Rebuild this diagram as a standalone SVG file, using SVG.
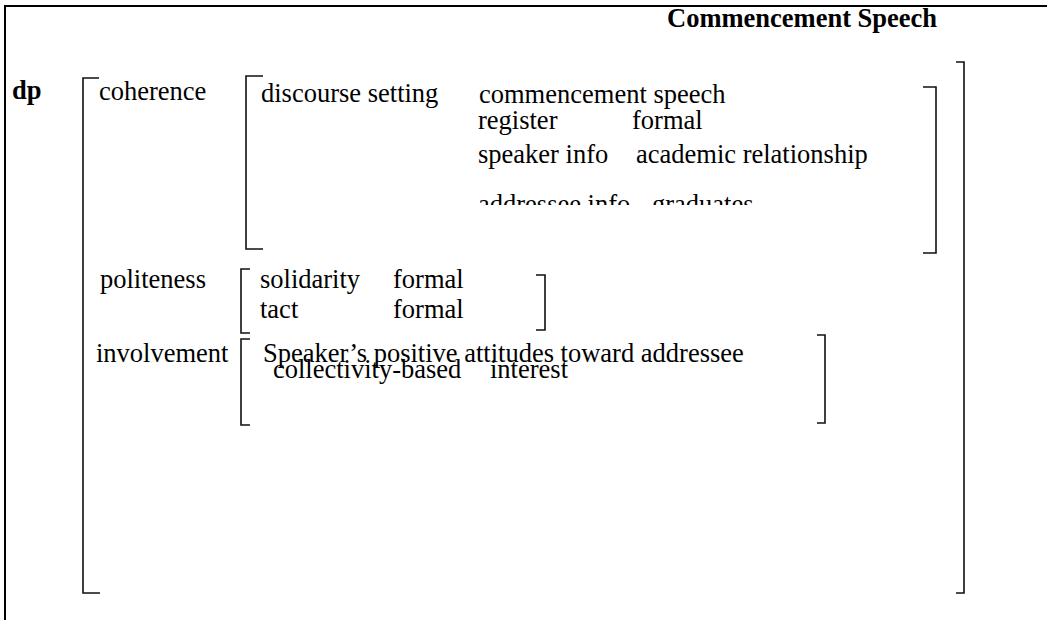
<svg xmlns="http://www.w3.org/2000/svg" width="1047" height="620" viewBox="0 0 1047 620">
  <style>
    text { font-family: "Liberation Serif", Tinos, "DejaVu Serif", "Times New Roman", serif; font-size: 26.5px; fill: #000; }
    .b { font-weight: bold; }
    .br { fill: none; stroke: #111; stroke-width: 1.6; }
    .frame { fill: none; stroke: #000; stroke-width: 2; }
  </style>
  <defs>
    <clipPath id="cut-row">
      <rect x="470" y="180" width="440" height="25"/>
    </clipPath>
  </defs>
  <rect width="1047" height="620" fill="#fff"/>

  <!-- page frame: top rule and left edge -->
  <g id="frame">
    <path class="frame" d="M5,620 V6 H1047"/>
  </g>

  <g id="title">
    <text class="b" x="667" y="27">Commencement Speech</text>
  </g>

  <g id="dp">
    <text class="b" x="12" y="99">dp</text>
  </g>

  <!-- outer bracket around the whole feature structure -->
  <g id="dp-brackets">
    <path class="br" d="M99,78 H83 V593 H100"/>
    <path class="br" d="M956,62 H964 V593 H956"/>
  </g>

  <g id="coherence">
    <text x="99" y="100">coherence</text>
    <path class="br" d="M263,76 H246 V249 H263"/>
    <path class="br" d="M923,87 H936 V253 H923"/>
    <text x="261" y="102">discourse setting</text>
    <text x="479" y="103">commencement speech</text>
    <text x="478" y="129">register</text>
    <text x="632" y="129">formal</text>
    <text x="478" y="163">speaker info</text>
    <text x="636" y="163">academic relationship</text>
    <g clip-path="url(#cut-row)">
      <text x="478" y="213">addressee info</text>
      <text x="652" y="213">graduates</text>
    </g>
  </g>

  <g id="politeness">
    <text x="100" y="288">politeness</text>
    <path class="br" d="M250,269 H241 V333 H250"/>
    <path class="br" d="M536,275 H545 V330 H536"/>
    <text x="260" y="288">solidarity</text>
    <text x="393" y="288">formal</text>
    <text x="260" y="318">tact</text>
    <text x="393" y="318">formal</text>
  </g>

  <g id="involvement">
    <text x="96" y="362">involvement</text>
    <path class="br" d="M250,339 H241 V425 H250"/>
    <path class="br" d="M817,335 H825 V423 H817"/>
    <text x="263" y="362">Speaker’s positive attitudes toward addressee</text>
    <text x="273" y="378">collectivity-based</text>
    <text x="490" y="378">interest</text>
  </g>

  <g id="connectors"></g>
</svg>
